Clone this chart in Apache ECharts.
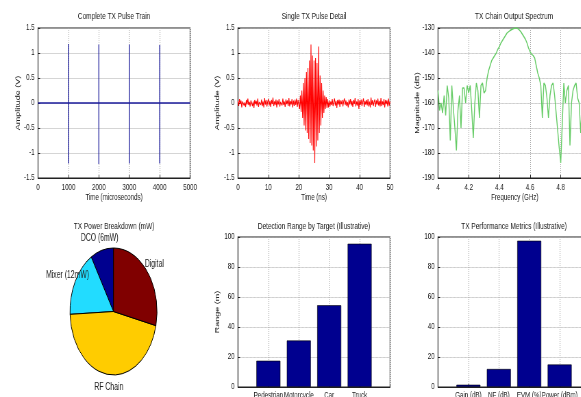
<!DOCTYPE html>
<html>
<head>
<meta charset="utf-8">
<script src="https://cdn.jsdelivr.net/npm/echarts@6.0.0/dist/echarts.min.js"></script>
<style>
  html, body { margin: 0; padding: 0; background: #fff; overflow: hidden; width: 581px; height: 397px; }
  /* the source figure is squeezed horizontally, so draw wide and squeeze it */
  #chart { width: 849px; height: 397px; transform: scaleX(0.685); transform-origin: 0 0; }
</style>
</head>
<body>
<div id="chart"></div>
<script>
// ---- data ----
// complete pulse train (microseconds / volts)
const pulseTimesUs = [1000, 2000, 3000, 4000];
const pulsePeaksV = [1.18, 1.17, 1.17, 1.16];
const pulseTroughsV = [-1.21, -1.22, -1.21, -1.21];
const trainEndUs = 5000;

// single pulse detail, sampled every 0.25 ns from 0 ns
const detailStartNs = 0;
const detailStepNs = 0.25;
const detailAmpV = [
  0.04,-0.06,0.08,-0.02,0.05,-0.09,0.03,0.07,-0.05,0.01,
  -0.08,0.06,-0.03,0.09,-0.04,0.02,-0.07,0.05,0.08,-0.06,
  0.03,-0.1,0.06,-0.02,0.04,-0.05,0.09,-0.08,0.02,0.05,
  -0.04,0.07,-0.06,0.03,-0.09,0.1,-0.03,0.06,-0.07,0.02,
  0.08,-0.05,0.04,-0.08,0.06,-0.02,0.11,-0.06,0.03,-0.04,
  0.07,-0.09,0.05,-0.03,0.08,-0.07,0.02,0.06,-0.05,0.09,
  -0.04,0.03,-0.08,0.07,-0.02,0.05,-0.06,0.1,-0.07,0.04,
  -0.03,0.08,-0.09,0.05,-0.06,0.07,-0.04,0.09,-0.08,0.06,
  0.1,-0.12,0.15,-0.18,0.25,-0.3,0.4,-0.45,0.5,-0.55,
  0.62,-0.6,0.7,-0.72,0.85,-0.8,1.17,-0.85,0.95,-0.95,
  0.85,-1.2,0.9,-0.87,0.8,-0.75,1.13,-0.6,0.55,-0.45,
  0.4,-0.3,0.25,-0.2,0.15,-0.12,0.12,-0.1,0.08,-0.09,
  0.05,-0.07,0.03,-0.04,0.08,-0.06,0.02,0.09,-0.05,0.04,
  -0.1,0.06,-0.03,0.07,-0.08,0.05,-0.02,0.06,-0.07,0.03,
  0.09,-0.04,0.05,-0.06,0.02,-0.09,0.07,-0.03,0.08,-0.05,
  0.04,-0.08,0.06,-0.02,0.1,-0.07,0.03,-0.05,0.08,-0.12,
  0.05,-0.04,0.07,-0.06,0.02,0.09,-0.08,0.04,-0.03,0.06,
  -0.05,0.08,-0.07,0.03,-0.09,0.11,-0.04,0.06,-0.06,0.02,
  0.07,-0.08,0.05,-0.03,0.09,-0.05,0.04,-0.07,0.1,-0.06,
  0.03,-0.04,0.08,-0.09,0.06,-0.02,0.05,-0.07,0.09,-0.05,
  0.03
];

// output spectrum, sampled every 0.01 GHz from 4 GHz
const specStartGHz = 4.0;
const specStepGHz = 0.01;
const specMagDb = [
  -155,-163,-160,-164,-157,-165,-153,-158,-175,-153,
  -162,-170,-179,-163,-157,-170,-154,-154,-160,-153,
  -156,-153,-163,-174,-160,-152,-155,-166,-153,-152,
  -156,-155,-150,-147,-145,-143,-142,-141,-140,-138.5,
  -137.5,-136,-135,-134,-133,-132,-131.5,-131,-130.6,-130.3,
  -130,-130,-130.2,-130.8,-131.5,-132.5,-133.5,-134.5,-136,-138,
  -139.5,-140.5,-141,-142,-145,-148,-150,-153,-166,-152,
  -153,-158,-166,-157,-153,-152,-157,-164,-171,-178,
  -184,-168,-152,-160,-155,-153,-177,-160,-155,-153,
  -152,-158,-160,-172,-160,-155,-157,-165,-158,-156,
  -160
];

// power breakdown (mW), drawn counter-clockwise from 12 o'clock
const powerLabels = ['DCO (6mW)', 'Mixer (12mW)', 'RF Chain', 'Digital'];
const powerMw = [6, 12, 32, 20];

// detection range by target
const targetNames = ['Pedestrian', 'Motorcycle', 'Car', 'Truck'];
const targetRangeM = [17.5, 31, 54.5, 95.5];

// performance metrics
const metricNames = ['Gain (dB)', 'NF (dB)', 'EVM (%)', 'Power (dBm)'];
const metricValues = [1.5, 12, 97.5, 15];

// ---- styling ----
const FONT = "'Liberation Sans', Arial, sans-serif";
const INK = '#222';
const powerColors = ['#00008f', '#22dcff', '#ffcc00', '#800000'];
const PIE_C = [165.7, 311.5];
const PIE_R = 63.5;

const chart = echarts.init(document.getElementById('chart'));

const plain = function (v) { return String(+(+v).toFixed(6)); };

function valAxis(gridIndex, min, max, interval, extra) {
  return Object.assign({
    type: 'value',
    gridIndex: gridIndex,
    min: min,
    max: max,
    interval: interval,
    axisLine: { show: true, onZero: false, lineStyle: { color: INK, width: 1 } },
    axisTick: { show: true, inside: true, length: 3, lineStyle: { color: INK } },
    axisLabel: { color: INK, fontSize: 9, fontFamily: FONT, margin: 5, formatter: plain },
    splitLine: { show: true, lineStyle: { color: '#aaa', type: 'dotted', width: 1 } },
    nameLocation: 'middle',
    nameMoveOverlap: false,
    nameTextStyle: { color: INK, fontSize: 9, fontFamily: FONT }
  }, extra || {});
}

function title(text, x, y) {
  return {
    text: text,
    left: x,
    top: y,
    textAlign: 'center',
    padding: 0,
    textStyle: { fontSize: 9.5, fontWeight: 'normal', color: INK, fontFamily: FONT }
  };
}

// pulse train as one connected line
const trainData = [[0, 0]];
pulseTimesUs.forEach(function (t, i) {
  trainData.push([t, 0], [t, pulsePeaksV[i]], [t, pulseTroughsV[i]], [t, 0]);
});
trainData.push([trainEndUs, 0]);

const detailData = detailAmpV.map(function (v, i) { return [detailStartNs + i * detailStepNs, v]; });
const specData = specMagDb.map(function (v, i) { return [specStartGHz + i * specStepGHz, v]; });

// pie labels sit centred a little outside the rim, on each slice's middle angle
function pieLabelLayout(p) {
  const total = powerMw.reduce(function (a, b) { return a + b; }, 0);
  let start = 0;
  for (let k = 0; k < p.dataIndex; k++) start += powerMw[k];
  const am = (start + powerMw[p.dataIndex] / 2) / total * Math.PI * 2;
  return {
    x: PIE_C[0] - 1.2 * PIE_R * Math.sin(am),
    y: PIE_C[1] - 1.19 * PIE_R * Math.cos(am),
    align: 'center',
    verticalAlign: 'middle'
  };
}

const catAxisLabel = function (names) {
  return {
    color: INK, fontSize: 9, fontFamily: FONT, margin: 4,
    formatter: function (v) { return names[v - 1] || ''; }
  };
};

const option = {
  backgroundColor: '#fff',
  animation: false,
  title: [
    title('Complete TX Pulse Train', 166.5, 11),
    title('Single TX Pulse Detail', 458.4, 11),
    title('TX Chain Output Spectrum', 750.4, 11),
    title('TX Power Breakdown (mW)', 166.5, 221),
    title('Detection Range by Target (Illustrative)', 458.4, 221),
    title('TX Performance Metrics (Illustrative)', 750.4, 221)
  ],
  grid: [
    { left: 55.5, top: 28, width: 222, height: 150 },
    { left: 347.4, top: 28, width: 222, height: 150 },
    { left: 639.4, top: 28, width: 224, height: 150 },
    { left: 347.4, top: 237, width: 222, height: 150 },
    { left: 639.4, top: 237, width: 222, height: 150 }
  ].map(function (g) {
    return Object.assign({
      show: true, borderColor: INK, borderWidth: 1.2, backgroundColor: '#fff',
      containLabel: false, outerBoundsMode: 'none'
    }, g);
  }),
  xAxis: [
    valAxis(0, 0, 5000, 1000, { name: 'Time (microseconds)', nameGap: 15 }),
    valAxis(1, 0, 50, 10, { name: 'Time (ns)', nameGap: 15 }),
    valAxis(2, 4, 5, 0.2, { name: 'Frequency (GHz)', nameGap: 15 }),
    valAxis(3, 0, 5, 1, { axisLabel: catAxisLabel(targetNames) }),
    valAxis(4, 0, 5, 1, { axisLabel: catAxisLabel(metricNames) })
  ],
  yAxis: [
    valAxis(0, -1.5, 1.5, 0.5, { name: 'Amplitude (V)', nameGap: 24 }),
    valAxis(1, -1.5, 1.5, 0.5, { name: 'Amplitude (V)', nameGap: 25 }),
    valAxis(2, -190, -130, 10, { name: 'Magnitude (dB)', nameGap: 25 }),
    valAxis(3, 0, 100, 20, { name: 'Range (m)', nameGap: 25 }),
    valAxis(4, 0, 100, 20)
  ],
  series: [
    {
      type: 'line', xAxisIndex: 0, yAxisIndex: 0, data: trainData,
      symbol: 'none', lineStyle: { color: '#1c1c9c', width: 1.3 }
    },
    {
      type: 'line', xAxisIndex: 1, yAxisIndex: 1, data: detailData,
      symbol: 'none', lineStyle: { color: '#ff0000', width: 1.1 }
    },
    {
      type: 'line', xAxisIndex: 2, yAxisIndex: 2, data: specData,
      symbol: 'none', lineStyle: { color: '#66cc66', width: 1.4 }
    },
    {
      type: 'pie',
      center: PIE_C,
      radius: PIE_R,
      startAngle: 90,
      clockwise: false,
      data: powerMw.map(function (v, i) {
        return { name: powerLabels[i], value: v, itemStyle: { color: powerColors[i] } };
      }),
      itemStyle: { borderColor: '#000', borderWidth: 1 },
      label: {
        show: true, position: 'outside', formatter: '{b}', color: INK,
        fontSize: 10, fontFamily: FONT, overflow: 'none', alignTo: 'none', bleedMargin: 0
      },
      labelLine: { show: false },
      labelLayout: pieLabelLayout,
      emphasis: { disabled: true }
    },
    {
      type: 'bar', xAxisIndex: 3, yAxisIndex: 3,
      data: targetRangeM.map(function (v, i) { return [i + 1, v]; }),
      barWidth: 35, itemStyle: { color: '#00008f', borderColor: '#000', borderWidth: 0.6 }
    },
    {
      type: 'bar', xAxisIndex: 4, yAxisIndex: 4,
      data: metricValues.map(function (v, i) { return [i + 1, v]; }),
      barWidth: 35, itemStyle: { color: '#00008f', borderColor: '#000', borderWidth: 0.6 }
    }
  ]
};

chart.setOption(option);
</script>
</body>
</html>
